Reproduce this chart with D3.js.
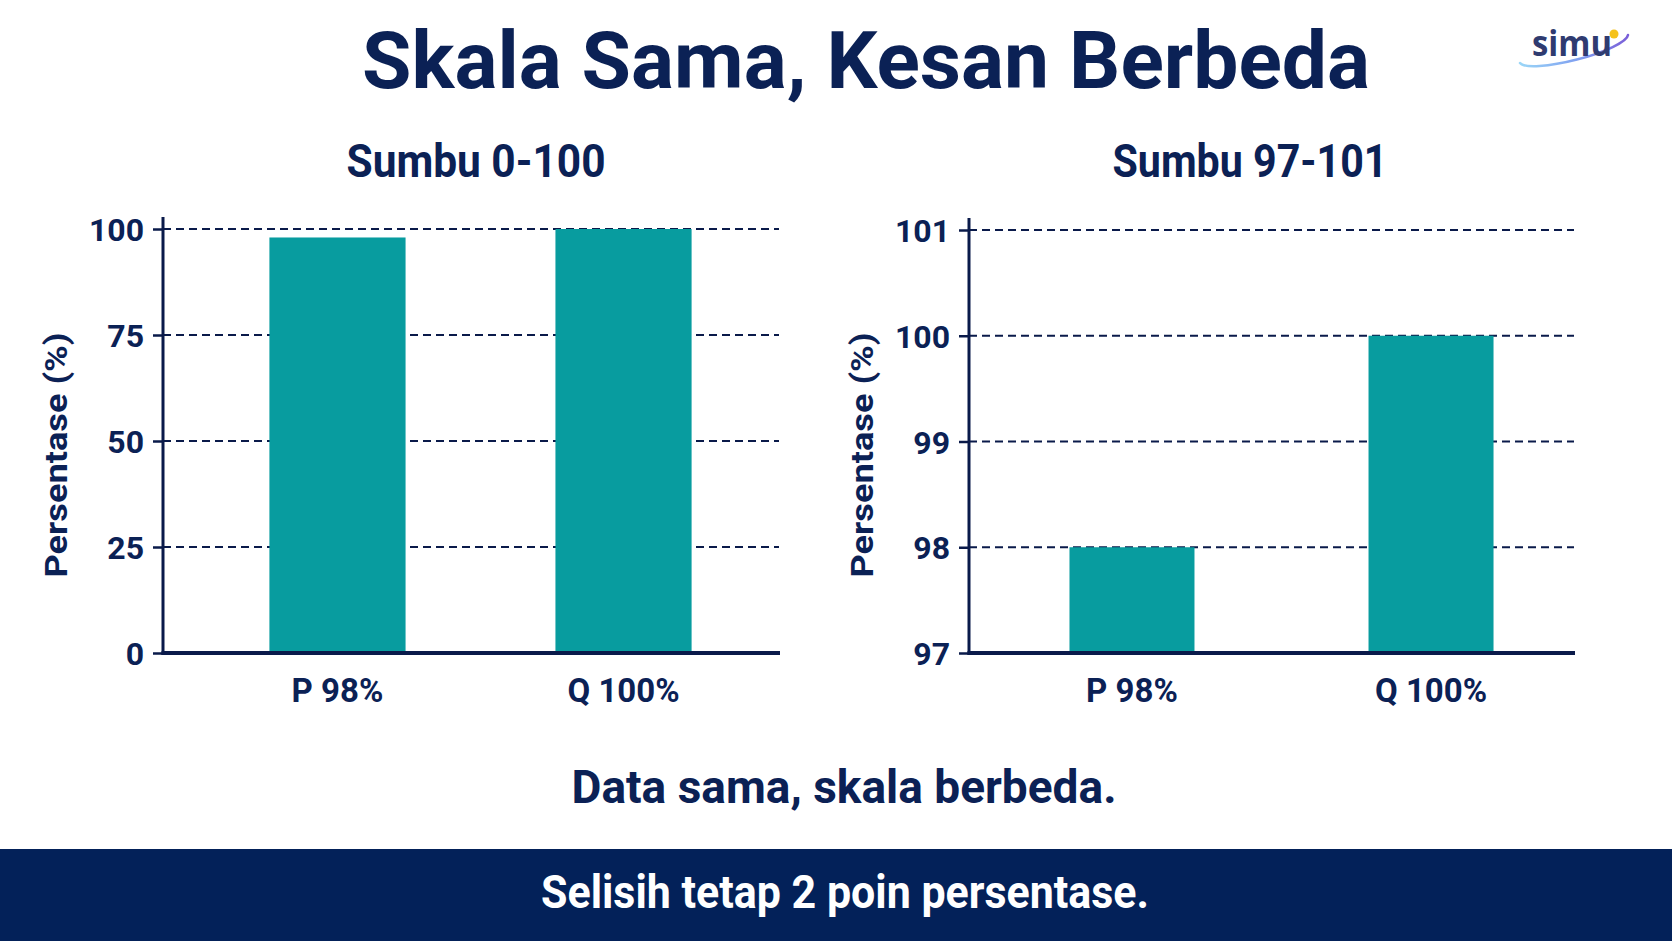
<!DOCTYPE html>
<html>
<head>
<meta charset="utf-8">
<script src="https://cdn.jsdelivr.net/npm/d3@7"></script>
<style>
  html, body { margin: 0; padding: 0; background: #ffffff; }
  svg { display: block; }
  text { font-family: Roboto, "Liberation Sans", Arial, sans-serif; font-weight: 700; }
</style>
</head>
<body>
<svg id="chart" width="1672" height="941"></svg>
<script>
// ---------------- DATA ----------------
const categories = ["P 98%", "Q 100%"];
const seriesValues = [98, 100];
const leftTicks = [0, 25, 50, 75, 100];
const rightTicks = [97, 98, 99, 100, 101];
const leftDomain = [0, 100];
const rightDomain = [97, 101];
const titleText = "Skala Sama, Kesan Berbeda";
const panelTitles = ["Sumbu 0-100", "Sumbu 97-101"];
const yAxisTitle = "Persentase (%)";
const noteText = "Data sama, skala berbeda.";
const bannerText = "Selisih tetap 2 poin persentase.";

// ---------------- STYLE ----------------
const NAVY = "#0b2155";
const AXIS = "#0a1a4a";
const TEAL = "#089c9f";
const BANNER = "#032159";

const svg = d3.select("#chart");
svg.append("rect").attr("width", 1672).attr("height", 941).attr("fill", "#ffffff");

// Title
svg.append("text")
  .attr("x", 866).attr("y", 88)
  .attr("text-anchor", "middle")
  .attr("font-size", 80)
  .attr("fill", NAVY)
  .attr("textLength", 1008).attr("lengthAdjust", "spacingAndGlyphs")
  .text(titleText);

// Logo
const defs = svg.append("defs");
const grad = defs.append("linearGradient").attr("id", "orbit")
  .attr("x1", "0%").attr("x2", "100%").attr("y1", "0%").attr("y2", "0%");
grad.append("stop").attr("offset", "0%").attr("stop-color", "#9ad6f7");
grad.append("stop").attr("offset", "55%").attr("stop-color", "#7f9ef0");
grad.append("stop").attr("offset", "100%").attr("stop-color", "#7a5fd8");
const logo = svg.append("g");
logo.append("path")
  .attr("d", "M1520,63 A56,12 -14.5 0 0 1628,35")
  .attr("fill", "none").attr("stroke", "url(#orbit)").attr("stroke-width", 2.5)
  .attr("stroke-linecap", "round");
logo.append("text")
  .attr("x", 1572).attr("y", 56).attr("text-anchor", "middle")
  .attr("font-size", 36).attr("fill", "#2f3b70")
  .attr("textLength", 80).attr("lengthAdjust", "spacingAndGlyphs")
  .style("font-family", "'Open Sans', Roboto, sans-serif").style("font-weight", 700)
  .text("simu");
logo.append("circle").attr("cx", 1614).attr("cy", 34).attr("r", 4.5).attr("fill", "#f5c21b");

// ---------------- PANELS ----------------
const panels = [
  {
    title: panelTitles[0], titleX: 476, domain: leftDomain, ticks: leftTicks,
    axisX: 163, plotRight: 780, bandRange: [163, 798], padIn: 0.524, padOut: 0.372,
    yTop: 229, yBottom: 653, axisTitleX: 67, titleLen: 259
  },
  {
    title: panelTitles[1], titleX: 1250, domain: rightDomain, ticks: rightTicks,
    axisX: 969, plotRight: 1575, bandRange: [969, 1594], padIn: 0.582, padOut: 0.336,
    yTop: 230, yBottom: 653, axisTitleX: 873, titleLen: 275
  }
];

panels.forEach(p => {
  const g = svg.append("g");
  const y = d3.scaleLinear().domain(p.domain).range([p.yBottom, p.yTop]);
  const x = d3.scaleBand().domain(categories).range(p.bandRange)
    .paddingInner(p.padIn).paddingOuter(p.padOut);

  // Panel title
  g.append("text")
    .attr("x", p.titleX).attr("y", 177).attr("text-anchor", "middle")
    .attr("font-size", 47).attr("fill", NAVY)
    .attr("textLength", p.titleLen).attr("lengthAdjust", "spacingAndGlyphs")
    .text(p.title);

  // Gridlines (dashed) except bottom tick
  g.append("g").selectAll("line")
    .data(p.ticks.filter(t => t !== p.domain[0]))
    .join("line")
    .attr("x1", p.axisX).attr("x2", p.plotRight - 1)
    .attr("y1", d => y(d)).attr("y2", d => y(d))
    .attr("stroke", AXIS).attr("stroke-width", 1.8)
    .attr("stroke-dasharray", "8,5");

  // Bars
  g.append("g").selectAll("rect")
    .data(categories.map((c, i) => ({ c, v: seriesValues[i] })))
    .join("rect")
    .attr("x", d => x(d.c))
    .attr("width", x.bandwidth())
    .attr("y", d => y(d.v))
    .attr("height", d => y(p.domain[0]) - y(d.v))
    .attr("fill", TEAL);

  // Y axis
  const yAxis = d3.axisLeft(y).tickValues(p.ticks).tickFormat(d3.format("d"))
    .tickSize(10).tickPadding(9).tickSizeOuter(0);
  const ya = g.append("g").attr("transform", `translate(${p.axisX},0)`).call(yAxis);
  ya.select(".domain").remove();
  ya.selectAll(".tick line").attr("stroke", AXIS).attr("stroke-width", 2.5);
  ya.selectAll(".tick text")
    .attr("font-size", 32).attr("fill", NAVY)
    .style("font-family", "Roboto, sans-serif").style("font-weight", 700)
    .attr("dy", "0.36em");

  // Axis lines
  g.append("line")
    .attr("x1", p.axisX).attr("x2", p.axisX)
    .attr("y1", p.yTop - 12).attr("y2", p.yBottom + 2)
    .attr("stroke", AXIS).attr("stroke-width", 3);
  g.append("line")
    .attr("x1", p.axisX - 1.5).attr("x2", p.plotRight)
    .attr("y1", p.yBottom).attr("y2", p.yBottom)
    .attr("stroke", AXIS).attr("stroke-width", 4);

  // X axis labels
  const xAxis = d3.axisBottom(x).tickSize(0).tickPadding(0);
  const xa = g.append("g").attr("transform", `translate(0,${p.yBottom})`).call(xAxis);
  xa.select(".domain").remove();
  xa.selectAll(".tick text")
    .attr("y", 49).attr("dy", 0)
    .attr("font-size", 33).attr("fill", NAVY)
    .style("font-family", "Roboto, sans-serif").style("font-weight", 700);

  // Y axis title
  g.append("text")
    .attr("transform", `translate(${p.axisTitleX},455) rotate(-90)`)
    .attr("text-anchor", "middle")
    .attr("font-size", 31).attr("fill", NAVY)
    .attr("textLength", 245).attr("lengthAdjust", "spacingAndGlyphs")
    .text(yAxisTitle);
});

// Note
svg.append("text")
  .attr("x", 844).attr("y", 803).attr("text-anchor", "middle")
  .attr("font-size", 46).attr("fill", NAVY)
  .attr("textLength", 545).attr("lengthAdjust", "spacingAndGlyphs")
  .text(noteText);

// Banner
svg.append("rect").attr("x", 0).attr("y", 849).attr("width", 1672).attr("height", 92).attr("fill", BANNER);
svg.append("text")
  .attr("x", 845).attr("y", 908).attr("text-anchor", "middle")
  .attr("font-size", 46).attr("fill", "#ffffff")
  .attr("textLength", 608).attr("lengthAdjust", "spacingAndGlyphs")
  .text(bannerText);
</script>
</body>
</html>
